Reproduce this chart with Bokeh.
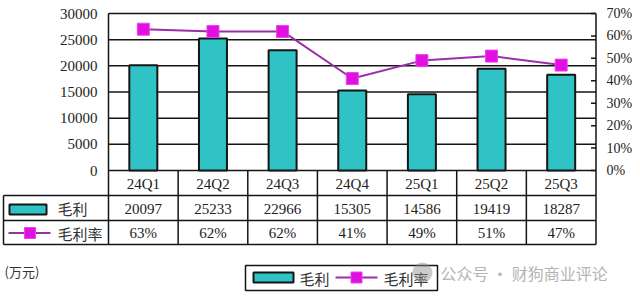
import numpy as np
from bokeh.plotting import figure
from bokeh.models import Range1d
from bokeh.core.properties import value
from bokeh.embed import file_html
from bokeh.resources import INLINE

# ---------------- data ----------------
categories = ["24Q1", "24Q2", "24Q3", "24Q4", "25Q1", "25Q2", "25Q3"]
gross_profit = [20097, 25233, 22966, 15305, 14586, 19419, 18287]   # 毛利 (万元)
gross_margin = [63, 62, 62, 41, 49, 51, 47]                        # 毛利率 (%)
left_ticks = [0, 5000, 10000, 15000, 20000, 25000, 30000]
right_ticks = [0, 10, 20, 30, 40, 50, 60, 70]
series_names = ["毛利", "毛利率"]
unit_label = "(万元)"
watermark = "公众号 · 财狗商业评论"

# ---------------- layout (pixels) ----------------
W, H = 640, 297
FL, FR, FT, FB = 108, 595.5, 13, 170
YMAX, PMAX = left_ticks[-1], right_ticks[-1]
n = len(categories)
cw = (FR - FL) / n


def dx(px):
    return (px - FL) / cw


def dy(py):
    return (FB - py) * YMAX / (FB - FT)


def dp(py):
    return (FB - py) * PMAX / (FB - FT)


TEAL = "#2fc3c6"
EDGE = "#151515"
PURPLE = "#9a2fa8"
MAGENTA = "#e010e0"
TXT = "#222222"
SERIF = value("Liberation Serif")
CJK = value("Noto Sans CJK SC")

p = figure(width=W, height=H, output_backend="svg", toolbar_location=None,
           title=None, x_range=Range1d(dx(0), dx(W)), y_range=Range1d(dy(H), dy(0)),
           x_axis_location=None, y_axis_location=None, min_border=0,
           min_border_left=0, min_border_right=0, min_border_top=0, min_border_bottom=0,
           outline_line_color=None, background_fill_color="white",
           border_fill_color="white")
p.extra_y_ranges = {"pct": Range1d(dp(H), dp(0))}
p.grid.visible = False

xs = np.arange(n) + 0.5

# gridlines + frame
p.segment(x0=[0] * len(left_ticks), x1=[n] * len(left_ticks), y0=left_ticks, y1=left_ticks,
          line_color=EDGE, line_width=1.5)
# bars
p.vbar(x=xs, top=gross_profit, bottom=0, width=28 / cw, fill_color=TEAL,
       line_color=EDGE, line_width=2)
# vertical frame lines & table columns
p.segment(x0=[0, n], x1=[0, n], y0=[dy(244)] * 2, y1=[YMAX] * 2, line_color=EDGE, line_width=1.5)
p.segment(x0=list(range(1, n)), x1=list(range(1, n)), y0=[0] * (n - 1), y1=[dy(244)] * (n - 1),
          line_color=EDGE, line_width=1.5)
rows = [195, 220, 244]
p.segment(x0=[dx(3)] * 3, x1=[n] * 3, y0=[dy(r) for r in rows], y1=[dy(r) for r in rows],
          line_color=EDGE, line_width=1.5)
p.segment(x0=[dx(3)], x1=[dx(3)], y0=[dy(195)], y1=[dy(244)], line_color=EDGE, line_width=1.5)

# right axis inner ticks
p.segment(x0=[n - 5 / cw] * len(right_ticks), x1=[n] * len(right_ticks), y0=right_ticks,
          y1=right_ticks, line_color=EDGE, line_width=1.5, y_range_name="pct")

# margin line
p.line(xs, gross_margin, line_color=PURPLE, line_width=2, y_range_name="pct")
p.scatter(xs, gross_margin, marker="square", size=12, fill_color=MAGENTA,
          line_color="#f040f0", y_range_name="pct")

# axis labels
p.text(x=[dx(97)] * len(left_ticks), y=left_ticks, text=[str(t) for t in left_ticks],
       text_align="right", text_baseline="middle", text_font=SERIF,
       text_font_size="15px", text_color=TXT)
p.text(x=[dx(606)] * len(right_ticks), y=right_ticks, text=[f"{t}%" for t in right_ticks],
       text_align="left", text_baseline="middle", text_font=SERIF,
       text_font_size="14px", text_color=TXT, y_range_name="pct")

# table text
p.text(x=xs, y=[dy(183)] * n, text=categories, text_align="center", text_baseline="middle",
       text_font=SERIF, text_font_size="15px", text_color=TXT)
p.text(x=xs, y=[dy(208)] * n, text=[str(v) for v in gross_profit], text_align="center",
       text_baseline="middle", text_font=SERIF, text_font_size="15px", text_color=TXT)
p.text(x=xs, y=[dy(232.5)] * n, text=[f"{v}%" for v in gross_margin], text_align="center",
       text_baseline="middle", text_font=SERIF, text_font_size="15px", text_color=TXT)

# table legend column
p.quad(left=[dx(9)], right=[dx(46)], bottom=[dy(214)], top=[dy(204)], fill_color=TEAL,
       line_color=EDGE, line_width=2)
p.line([dx(8), dx(50)], [dy(232.5)] * 2, line_color=PURPLE, line_width=2)
p.scatter([dx(29.5)], [dy(232.5)], marker="square", size=11, fill_color=MAGENTA,
          line_color="#f040f0")
p.text(x=[dx(57), dx(57)], y=[dy(208), dy(232.5)], text=series_names, text_align="left",
       text_baseline="middle", text_font=CJK, text_font_size="15px", text_color="#333333")

# unit label
p.text(x=[dx(4)], y=[dy(271)], text=[unit_label], text_align="left", text_baseline="middle",
       text_font=CJK, text_font_size="13px", text_color="#333333")

# bottom legend
p.quad(left=[dx(245)], right=[dx(437)], bottom=[dy(290)], top=[dy(265)], fill_color="white",
       line_color=EDGE, line_width=1.5)
p.quad(left=[dx(253)], right=[dx(293)], bottom=[dy(282)], top=[dy(272)], fill_color=TEAL,
       line_color=EDGE, line_width=2)
p.line([dx(335), dx(377)], [dy(277)] * 2, line_color=PURPLE, line_width=2)
p.scatter([dx(356)], [dy(277)], marker="square", size=11, fill_color=MAGENTA,
          line_color="#f040f0")
p.text(x=[dx(299), dx(383)], y=[dy(277.5)] * 2, text=series_names, text_align="left",
       text_baseline="middle", text_font=CJK, text_font_size="15px", text_color="#333333")

# watermark
p.scatter([dx(422)], [dy(272)], marker="circle", size=20, fill_color="#8a8a8a",
          fill_alpha=0.45, line_color=None)
p.text(x=[dx(440)], y=[dy(272)], text=[watermark], text_align="left", text_baseline="middle",
       text_font=CJK, text_font_size="16px", text_color="#b4b4b4")

open("out.html", "w").write(file_html(p, INLINE))
